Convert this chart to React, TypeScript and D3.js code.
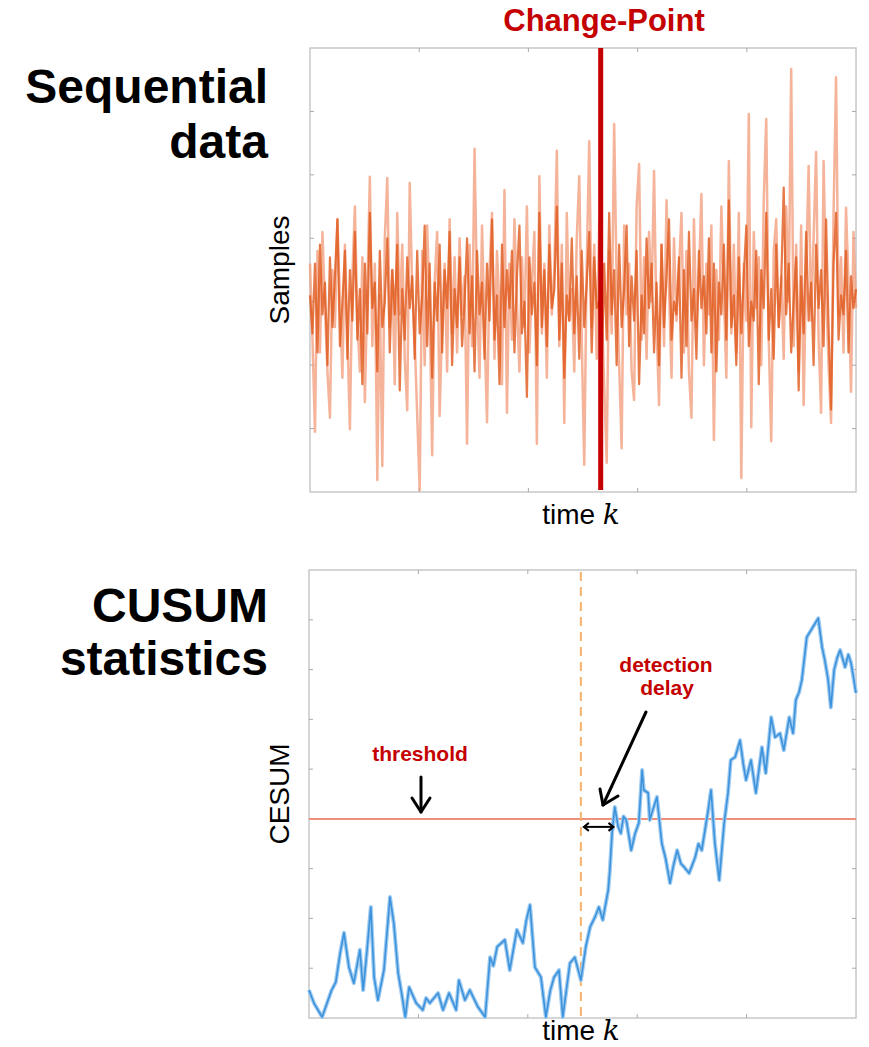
import React from "react";
import * as d3 from "d3";

// ---------- DATA ----------
// Sequential samples (two overlaid noisy series), value units 0..7
const samplesLight: number[] = [
  3.6, 2.4, 0.95, 3.8, 2.2, 4.1, 2.9, 1.9, 1.17, 3.5,
  2.6, 4.3, 3.0, 1.8, 3.9, 2.5, 0.99, 3.4, 4.5, 2.7,
  1.9, 3.7, 1.42, 3.2, 4.97, 2.3, 3.6, 0.19, 3.1, 0.41,
  4.0, 4.95, 2.6, 3.5, 1.7, 4.4, 2.8, 3.9, 2.1, 1.29,
  4.87, 3.2, 2.4, 1.21, 0.03, 3.8, 2.0, 4.2, 2.9, 0.58,
  3.3, 4.1, 1.2, 2.7, 3.6, 1.9, 4.3, 2.5, 3.7, 2.2,
  4.0, 2.8, 3.4, 0.76, 3.9, 2.3, 5.41, 3.1, 1.8, 4.2,
  2.6, 1.1, 3.5, 4.4, 2.1, 3.8, 2.9, 1.7, 4.76, 1.25,
  3.6, 2.4, 4.3, 3.0, 1.9, 3.7, 2.6, 4.5, 2.2, 3.3,
  4.1, 0.76, 4.98, 2.5, 3.6, 1.8, 4.2, 2.8, 3.5, 5.38,
  2.3, 3.9, 1.09, 4.4, 2.7, 3.2, 1.9, 4.0, 4.98, 2.4,
  0.43, 3.6, 5.53, 2.6, 3.9, 2.1, 4.3, 3.0, 1.7, 0.46,
  3.8, 2.5, 5.8, 3.3, 2.0, 0.69, 4.2, 2.8, 3.6, 1.9,
  1.45, 4.5, 5.17, 2.4, 3.7, 2.1, 4.1, 3.0, 5.06, 2.6,
  1.37, 3.9, 2.3, 4.6, 3.2, 1.8, 4.0, 2.7, 3.5, 4.4,
  2.2, 3.8, 1.9, 1.17, 4.3, 2.6, 3.4, 4.7, 2.0, 3.6,
  2.8, 4.2, 0.82, 3.5, 2.4, 4.5, 3.1, 1.8, 5.22, 2.5,
  3.9, 2.2, 4.4, 0.22, 3.6, 2.7, 5.96, 1.02, 4.1, 2.9,
  3.7, 2.0, 4.6, 5.88, 2.4, 0.8, 3.8, 4.3, 2.6, 3.4,
  2.1, 4.5, 3.0, 6.67, 2.3, 3.9, 1.9, 4.2, 1.37, 3.5,
  5.14, 2.7, 4.0, 5.36, 2.4, 1.25, 5.22, 3.2, 2.0, 1.09,
  4.4, 6.54, 2.8, 3.7, 2.2, 4.48, 3.3, 1.58, 4.1, 2.9,
];
const samplesDark: number[] = [
  3.1, 2.5, 3.6, 2.2, 3.9, 2.8, 3.3, 2.0, 3.7, 2.6,
  3.4, 4.3, 2.3, 3.0, 3.8, 2.1, 3.5, 2.7, 4.1, 2.4,
  3.2, 1.7, 3.6, 2.5, 4.4, 2.9, 3.3, 1.9, 3.8, 2.6,
  3.0, 4.0, 2.2, 3.5, 2.8, 3.9, 1.6, 3.2, 2.4, 3.7,
  2.9, 3.4, 2.1, 3.8, 2.5, 3.1, 4.2, 2.3, 3.6, 1.8,
  3.3, 2.7, 3.9, 2.2, 3.5, 2.9, 4.1, 2.0, 3.2, 2.6,
  3.7, 2.3, 3.0, 4.0, 2.5, 3.4, 1.9, 3.8, 2.8, 3.3,
  2.1, 3.6, 2.7, 4.3, 2.4, 3.1, 1.7, 3.9, 2.6, 3.5,
  2.9, 3.8, 2.2, 3.4, 4.2, 2.5, 3.0, 1.5, 3.7, 2.8,
  3.3, 2.0, 4.4, 2.6, 3.5, 2.3, 3.9, 2.9, 3.2, 4.5,
  2.4, 3.6, 1.8, 3.1, 2.7, 4.0, 2.5, 3.4, 2.1, 3.8,
  2.6, 3.3, 4.1, 2.2, 3.7, 2.9, 3.0, 1.9, 3.6, 2.4,
  4.4, 2.8, 3.5, 2.0, 3.9, 2.6, 3.2, 4.2, 2.3, 3.4,
  2.7, 3.8, 1.7, 3.1, 2.5, 4.0, 2.9, 3.6, 2.2, 3.3,
  2.0, 3.9, 2.6, 3.4, 4.3, 2.4, 3.0, 2.8, 3.7, 1.8,
  3.5, 2.3, 4.1, 2.7, 3.2, 2.1, 3.8, 2.9, 3.4, 2.5,
  4.0, 2.2, 3.6, 1.9, 3.3, 2.8, 3.9, 2.4, 4.6, 2.6,
  3.1, 2.0, 3.7, 2.5, 3.4, 4.2, 2.3, 3.0, 2.7, 3.8,
  1.7, 3.5, 2.9, 4.4, 2.4, 3.2, 2.1, 3.9, 2.6, 3.3,
  4.8, 2.8, 3.6, 2.2, 3.0, 3.7, 1.6, 3.4, 2.5, 4.1,
  2.7, 3.3, 2.0, 3.9, 2.9, 3.5, 2.3, 4.3, 2.6, 1.3,
  3.6, 4.4, 2.4, 3.1, 2.8, 3.8, 2.2, 3.4, 2.9, 3.2,
];
const SAMPLE_X_TICKS = [43.8, 87.6, 131.4, 175.2];
const SAMPLE_Y_TICKS = [1, 2, 3, 4, 5, 6];
const CHANGE_INDEX = 116.6;

// CUSUM statistic: time (0..1000) and value (0..9)
const cusumTime: number[] = [
  0, 9, 24, 33, 41, 49, 57, 64, 73, 82, 93, 99, 106, 113, 119, 126, 137, 148, 155, 163, 170, 176, 183,
  196, 208, 214, 221, 236, 245, 256, 269, 274, 285, 294, 309, 322, 331, 337, 344, 358, 367, 380, 391, 397, 404, 413,
  424, 433, 441, 448, 457, 464, 477, 486, 497, 506, 514, 523, 530, 537, 547, 550, 554, 559, 565, 570, 575, 580, 589,
  596, 603, 609, 612, 620, 623, 636, 645, 652, 660, 666, 673, 680, 686, 695, 706, 712, 718, 729, 735, 742, 750, 759, 766, 771,
  779, 788, 794, 799, 808, 817, 828, 835, 845, 852, 861, 868, 878, 885, 890, 896, 901, 910, 921, 931, 938, 943,
  949, 954, 960, 966, 971, 980, 986, 991, 1000,
];
const cusumValue: number[] = [
  0.56, 0.30, 0.02, 0.30, 0.55, 0.72, 1.31, 1.71, 1.02, 0.70, 1.37, 0.56, 1.35, 2.23, 0.82, 0.36, 0.96, 2.43, 1.91, 0.90, 0.45, 0.02, 0.62,
  0.30, 0.16, 0.40, 0.30, 0.50, 0.16, 0.50, 0.16, 0.76, 0.36, 0.56, 0.22, 0.02, 1.22, 1.05, 1.43, 1.57, 0.96, 1.77, 1.51, 1.95, 2.27, 1.02,
  0.82, 0.02, 0.55, 0.82, 0.96, 0.02, 1.10, 1.22, 0.76, 1.43, 1.83, 2.03, 2.23, 1.97, 2.57, 2.97, 3.71, 4.24, 3.85, 3.71, 4.05, 3.98, 3.37,
  3.70, 3.92, 4.98, 4.58, 4.52, 3.98, 4.44, 3.51, 3.20, 2.71, 3.05, 3.37, 3.10, 3.03, 2.91, 3.23, 3.50, 3.37, 4.12, 4.58, 3.51, 2.77, 3.92, 4.52, 5.18,
  5.24, 5.58, 5.10, 4.78, 5.18, 4.52, 5.44, 4.92, 6.04, 5.64, 5.72, 5.38, 6.04, 5.72, 6.39, 6.55, 6.79, 7.65, 7.85, 8.03, 7.45, 7.19,
  6.80, 6.24, 6.99, 7.25, 7.39, 7.05, 7.30, 7.13, 6.53,
];
const CUSUM_X_TICKS = [200, 400, 600, 800];
const CUSUM_Y_TICKS = [1, 2, 3, 4, 5, 6, 7, 8];
const THRESHOLD = 4;
const CUSUM_CHANGE = 497;
const CUSUM_DETECT = 553;

// ---------- LAYOUT ----------
const W = 869;
const H = 1047;
const top = { x0: 310, x1: 856, y0: 48, y1: 492 };
const bot = { x0: 309, x1: 856, y0: 570, y1: 1018 };
const RED = "#c40000";
const FONT = "'Liberation Sans', Arial, Helvetica, sans-serif";

export default function App() {
  const xs = d3.scaleLinear().domain([0, samplesLight.length - 1]).range([top.x0, top.x1]);
  const ys = d3.scaleLinear().domain([0, 7]).range([top.y1, top.y0]);
  const xc = d3.scaleLinear().domain([0, 1000]).range([bot.x0, bot.x1]);
  const yc = d3.scaleLinear().domain([0, 9]).range([bot.y1, bot.y0]);

  const sLine = d3
    .line<number>()
    .x((_, i) => xs(i))
    .y((d) => ys(d));
  const cLine = d3
    .line<number>()
    .x((_, i) => xc(cusumTime[i]))
    .y((d) => yc(d));

  const frame = (b: typeof top, xTicks: number[], yTicks: number[], sx: any, sy: any) => (
    <g>
      <rect x={b.x0} y={b.y0} width={b.x1 - b.x0} height={b.y1 - b.y0} fill="none" stroke="#c8c8c8" strokeWidth={1.5} />
      {xTicks.map((t) => (
        <g key={"x" + t}>
          <line x1={sx(t)} x2={sx(t)} y1={b.y0} y2={b.y0 + 4} stroke="#aaa" strokeWidth={1} />
          <line x1={sx(t)} x2={sx(t)} y1={b.y1} y2={b.y1 - 4} stroke="#aaa" strokeWidth={1} />
        </g>
      ))}
      {yTicks.map((t) => (
        <g key={"y" + t}>
          <line x1={b.x0} x2={b.x0 + 4} y1={sy(t)} y2={sy(t)} stroke="#aaa" strokeWidth={1} />
          <line x1={b.x1} x2={b.x1 - 4} y1={sy(t)} y2={sy(t)} stroke="#aaa" strokeWidth={1} />
        </g>
      ))}
    </g>
  );

  const timeLabel = (y: number) => (
    <text x={581} y={y} textAnchor="middle" fontFamily={FONT} fontSize={28} fill="#000">
      time <tspan fontFamily="'DejaVu Serif', 'Liberation Serif', serif" fontStyle="italic">k</tspan>
    </text>
  );

  const cx = xc(CUSUM_CHANGE);
  const dx = xc(CUSUM_DETECT);
  const thY = yc(THRESHOLD);

  return (
    <svg width={W} height={H} style={{ position: "absolute", left: 0, top: 0, background: "#fff" }}>
      {/* Titles */}
      <g fontFamily={FONT} fontWeight="bold" fontSize={48} textAnchor="end" fill="#000">
        <text x={268} y={103}>Sequential</text>
        <text x={268} y={158}>data</text>
        <text x={268} y={622}>CUSUM</text>
        <text x={268} y={675}>statistics</text>
      </g>

      {/* Top panel */}
      {frame(top, SAMPLE_X_TICKS, SAMPLE_Y_TICKS, xs, ys)}
      <path d={sLine(samplesLight) || ""} fill="none" stroke="#f29a78" strokeOpacity={0.75} strokeWidth={2.5} strokeLinejoin="round" />
      <path d={sLine(samplesDark) || ""} fill="none" stroke="#e0581a" strokeOpacity={0.8} strokeWidth={2.2} strokeLinejoin="round" />
      <line x1={xs(CHANGE_INDEX)} x2={xs(CHANGE_INDEX)} y1={top.y0} y2={top.y1 - 2} stroke={RED} strokeWidth={5} />
      <text x={604} y={31} textAnchor="middle" fontFamily={FONT} fontWeight="bold" fontSize={31} fill={RED}>
        Change-Point
      </text>
      <text transform={`translate(289,270) rotate(-90)`} textAnchor="middle" fontFamily={FONT} fontSize={28} fill="#000">
        Samples
      </text>
      {timeLabel(524)}

      {/* Bottom panel */}
      {frame(bot, CUSUM_X_TICKS, CUSUM_Y_TICKS, xc, yc)}
      <line x1={bot.x0} x2={bot.x1} y1={thY} y2={thY} stroke="#f08e78" strokeWidth={2} />
      <line x1={cx} x2={cx} y1={bot.y0 + 2} y2={bot.y1} stroke="#f5b26e" strokeWidth={2} strokeDasharray="9,6" />
      <path d={cLine(cusumValue) || ""} fill="none" stroke="#9ccaf0" strokeWidth={4} strokeLinejoin="round" />
      <path d={cLine(cusumValue) || ""} fill="none" stroke="#3d92dc" strokeWidth={1.6} strokeLinejoin="round" />
      <text transform={`translate(289,794) rotate(-90)`} textAnchor="middle" fontFamily={FONT} fontSize={28} fill="#000">
        CESUM
      </text>
      {timeLabel(1040)}

      {/* Annotations */}
      <g fontFamily={FONT} fontWeight="bold" fontSize={21} fill={RED} textAnchor="middle">
        <text x={420} y={761}>threshold</text>
        <text x={666} y={672}>detection</text>
        <text x={667} y={695}>delay</text>
      </g>
      <g stroke="#000" strokeWidth={3} fill="none" strokeLinecap="round" strokeLinejoin="round">
        <line x1={421} y1={777} x2={421} y2={812} />
        <polyline points="412,798 421,812 430,798" />
        <line x1={646} y1={712} x2={603} y2={805} />
        <polyline points="600,789 603,805 618,796" />
      </g>
      <g stroke="#000" strokeWidth={2} fill="none">
        <line x1={cx + 3} y1={thY + 8} x2={dx + 2} y2={thY + 8} />
        <polyline points={`${cx + 8},${thY + 4} ${cx + 3},${thY + 8} ${cx + 8},${thY + 12}`} />
        <polyline points={`${dx - 3},${thY + 4} ${dx + 2},${thY + 8} ${dx - 3},${thY + 12}`} />
      </g>
    </svg>
  );
}
